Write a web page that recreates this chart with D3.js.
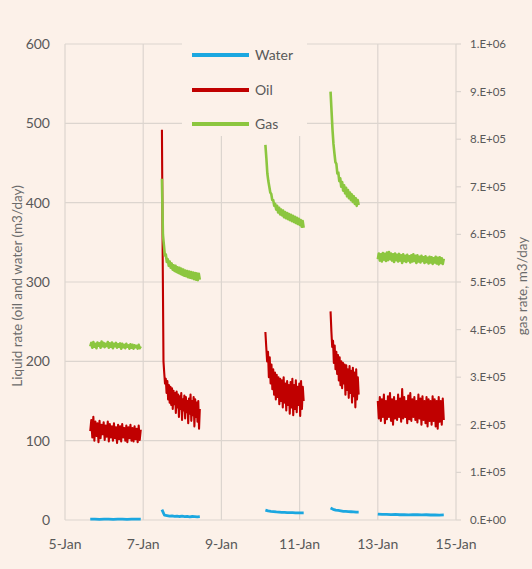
<!DOCTYPE html>
<html>
<head>
<meta charset="utf-8">
<script src="https://cdn.jsdelivr.net/npm/d3@7"></script>
<style>
body { margin: 0; background: #fcf1e9; }
svg text { font-family: Lato, "Open Sans", sans-serif; fill: #595959; }
</style>
</head>
<body>
<div id="chart"></div>
<script>
// ---- data ----
// each test period (segment) has a start and an end; samples are evenly spaced inside it
const segStarts = ["2024-01-05T15:30", "2024-01-07T11:30", "2024-01-10T03:00", "2024-01-11T19:00", "2024-01-13T00:00"];
const segEnds   = ["2024-01-06T22:30", "2024-01-08T10:45", "2024-01-11T02:30", "2024-01-12T12:15", "2024-01-14T16:30"];

// water rate, m3/day (left axis)
const waterSegs = [
  [1, 1.2, 0.8, 1, 1.2, 0.9, 1, 1.1, 0.9, 1, 1.2, 1],
  [13, 6, 5.5, 5, 5.2, 4.6, 5, 4.4, 4.8, 4.2, 4.6, 4, 4.4, 4.2, 4, 4.3],
  [12.5, 11.5, 11, 10.6, 10.2, 10, 9.7, 9.6, 9.4, 9.3, 9.2, 9.1, 9, 9, 9],
  [15, 13.5, 12.5, 12, 11.5, 11, 10.8, 10.6, 10.4, 10.2, 10, 10],
  [7.5, 7, 7.2, 6.8, 7, 6.6, 6.9, 6.5, 6.8, 6.6, 6.4, 6.6, 6.3, 6.5, 6.2, 6.4]
];

// oil rate, m3/day (left axis)
const oilSegs = [
  [112, 126, 104, 130, 100, 124, 106, 122, 98, 125, 103, 120, 108, 123, 101, 119, 105, 124, 99, 121, 104, 118, 100, 122, 103,
   117, 97, 120, 102, 118, 99, 121, 104, 116, 100, 119, 98, 117, 103, 120, 100, 116, 99, 118, 102, 115, 98, 119, 101, 114],
  [492, 330, 200, 185, 172, 178, 160, 175, 152, 170, 148, 168, 145, 166, 140, 163, 146, 160, 135, 162, 142, 158, 130, 156, 140,
   160, 126, 152, 138, 157, 128, 155, 136, 150, 122, 153, 134, 158, 125, 150, 132, 155, 118, 152, 130, 148, 124, 150, 115, 140],
  [237, 218, 200, 212, 180, 205, 172, 196, 165, 190, 158, 186, 152, 183, 155, 180, 146, 178, 150, 176, 142, 180, 148, 172, 138,
   175, 145, 170, 134, 174, 142, 178, 132, 170, 140, 176, 136, 168, 145, 172, 131, 175, 140, 168, 150],
  [263, 238, 218, 226, 198, 220, 190, 212, 184, 208, 176, 205, 170, 200, 166, 198, 172, 196, 158, 195, 164, 190, 154, 194, 160,
   188, 148, 192, 156, 186, 142, 190, 152, 180, 158],
  [150, 128, 155, 125, 152, 130, 158, 122, 150, 127, 156, 130, 160, 125, 152, 120, 155, 128, 150, 126, 158, 130, 153, 124, 165,
   128, 155, 130, 150, 122, 157, 127, 160, 125, 152, 130, 155, 126, 150, 123, 158, 128, 153, 120, 156, 126, 150, 122, 155, 118,
   152, 125, 150, 120, 156, 125, 152, 118, 150, 115, 155, 124, 150, 120, 153, 126]
];

// gas rate, m3/day (right axis)
const gasSegs = [
  [365000, 372000, 362000, 374000, 364000, 370000, 361000, 373000, 366000, 371000, 362000, 375000, 365000, 372000, 363000,
   370000, 366000, 374000, 362000, 371000, 364000, 373000, 361000, 370000, 365000, 372000, 362000, 369000, 364000, 371000,
   360000, 370000, 363000, 368000, 361000, 370000, 364000, 367000, 360000, 369000, 362000, 368000, 360000, 367000, 363000,
   366000, 360000, 368000, 361000, 365000],
  [717000, 600000, 578000, 556000, 558000, 542000, 548000, 534000, 543000, 530000, 539000, 526000, 535000, 523000, 534000,
   521000, 531000, 519000, 530000, 517000, 528000, 515000, 526000, 513000, 524000, 512000, 523000, 510000, 522000, 509000,
   521000, 508000, 520000, 506000, 519000, 505000, 518000, 504000, 517000, 505000],
  [788000, 760000, 728000, 712000, 700000, 688000, 685000, 672000, 672000, 660000, 664000, 652000, 660000, 646000, 656000,
   642000, 652000, 640000, 650000, 636000, 647000, 634000, 645000, 632000, 643000, 630000, 641000, 628000, 639000, 626000,
   637000, 624000, 635000, 622000, 633000, 620000, 630000, 616000, 628000, 614000],
  [900000, 860000, 820000, 790000, 770000, 752000, 748000, 728000, 730000, 712000, 718000, 700000, 710000, 692000, 703000,
   686000, 698000, 680000, 693000, 676000, 688000, 672000, 684000, 668000, 680000, 664000, 676000, 660000, 672000, 662000],
  [548000, 560000, 545000, 558000, 543000, 561000, 547000, 559000, 544000, 562000, 546000, 563000, 548000, 560000, 545000,
   558000, 542000, 560000, 546000, 557000, 543000, 559000, 545000, 556000, 540000, 558000, 544000, 555000, 542000, 557000,
   545000, 554000, 541000, 556000, 543000, 558000, 544000, 555000, 540000, 556000, 543000, 553000, 541000, 555000, 544000,
   552000, 540000, 554000, 542000, 551000, 539000, 553000, 541000, 552000, 538000, 550000, 541000, 553000, 539000, 551000,
   537000, 552000, 540000, 550000, 538000, 549000]
];

const dateTicks = ["2024-01-05", "2024-01-07", "2024-01-09", "2024-01-11", "2024-01-13", "2024-01-15"];
const liquidTicks = [0, 100, 200, 300, 400, 500, 600];
const gasTicks = [0, 1e5, 2e5, 3e5, 4e5, 5e5, 6e5, 7e5, 8e5, 9e5, 1e6];
const seriesNames = ["Water", "Oil", "Gas"];
const seriesColors = ["#1ba7e0", "#c00000", "#8cc63f"];

// ---- drawing ----
const W = 532, H = 569;
const mLeft = 65, mRight = 456, mTop = 44, mBottom = 520;
const gridColor = "#dcd5cf";

const svg = d3.select("#chart").append("svg").attr("width", W).attr("height", H);
svg.append("rect").attr("width", W).attr("height", H).attr("fill", "#fcf1e9");

const parse = d3.timeParse("%Y-%m-%dT%H:%M");
const parseDay = d3.timeParse("%Y-%m-%d");
const tickDates = dateTicks.map(parseDay);

const x = d3.scaleTime().domain([tickDates[0], tickDates[tickDates.length - 1]]).range([mLeft, mRight]);
const yL = d3.scaleLinear().domain([0, 600]).range([mBottom, mTop]);
const yR = d3.scaleLinear().domain([0, 1e6]).range([mBottom, mTop]);

// grid
svg.append("g").selectAll("line").data(liquidTicks).join("line")
  .attr("x1", mLeft).attr("x2", mRight)
  .attr("y1", d => yL(d)).attr("y2", d => yL(d))
  .attr("stroke", gridColor).attr("stroke-width", 1.2);
svg.append("g").selectAll("line").data(tickDates).join("line")
  .attr("x1", d => x(d)).attr("x2", d => x(d))
  .attr("y1", mTop).attr("y2", mBottom)
  .attr("stroke", gridColor).attr("stroke-width", 1.2);

// right axis ticks
svg.append("g").selectAll("line").data(gasTicks).join("line")
  .attr("x1", mRight).attr("x2", mRight + 5)
  .attr("y1", d => yR(d)).attr("y2", d => yR(d))
  .attr("stroke", gridColor).attr("stroke-width", 1.2);

// tick labels
svg.append("g").selectAll("text").data(liquidTicks).join("text")
  .attr("x", 50).attr("y", d => yL(d) + 5)
  .attr("text-anchor", "end").attr("font-size", 14).text(d => d);

const fmtDate = d3.timeFormat("%-d-%b");
svg.append("g").selectAll("text").data(tickDates).join("text")
  .attr("x", d => x(d)).attr("y", 549)
  .attr("text-anchor", "middle").attr("font-size", 14).text(fmtDate);

function sci(v) {
  if (v === 0) return "0.E+00";
  const e = Math.floor(Math.log10(v));
  return Math.round(v / Math.pow(10, e)) + ".E+" + String(e).padStart(2, "0");
}
svg.append("g").selectAll("text").data(gasTicks).join("text")
  .attr("x", 470).attr("y", d => yR(d) + 4)
  .attr("font-size", 11.5).text(sci);

// axis titles
svg.append("text")
  .attr("transform", `translate(22,${(mTop + mBottom) / 2 + 4}) rotate(-90)`)
  .attr("text-anchor", "middle").attr("font-size", 13.5).style("fill", "#6b6b6b")
  .text("Liquid rate (oil and water (m3/day)");
svg.append("text")
  .attr("transform", `translate(527,${(mTop + mBottom) / 2 + 4}) rotate(-90)`)
  .attr("text-anchor", "middle").attr("font-size", 13.5).style("fill", "#6b6b6b")
  .text("gas rate, m3/day");

// turn one segment's samples into [date, value] points
function segPoints(values, i) {
  const t0 = parse(segStarts[i]).getTime(), t1 = parse(segEnds[i]).getTime();
  const n = values.length;
  return values.map((v, k) => [new Date(t0 + (t1 - t0) * k / (n - 1)), v]);
}

const allSeries = [
  { segs: waterSegs, y: yL, width: 2.8 },
  { segs: oilSegs, y: yL, width: 2.1 },
  { segs: gasSegs, y: yR, width: 2.6 }
];

allSeries.forEach((s, si) => {
  const line = d3.line().x(d => x(d[0])).y(d => s.y(d[1]));
  svg.append("g").selectAll("path").data(s.segs.map(segPoints)).join("path")
    .attr("d", line)
    .attr("fill", "none")
    .attr("stroke", seriesColors[si])
    .attr("stroke-width", s.width)
    .attr("stroke-linejoin", "round");
});

// legend (sits on a box of background colour that hides the grid)
const lg = svg.append("g");
lg.append("rect").attr("x", 182).attr("y", 38).attr("width", 125).attr("height", 98).attr("fill", "#fcf1e9");
const legendY = [55, 90, 124];
seriesNames.forEach((name, i) => {
  lg.append("line").attr("x1", 192).attr("x2", 249)
    .attr("y1", legendY[i]).attr("y2", legendY[i])
    .attr("stroke", seriesColors[i]).attr("stroke-width", 4);
  lg.append("text").attr("x", 255).attr("y", legendY[i] + 5)
    .attr("font-size", 14).text(name);
});
</script>
</body>
</html>
